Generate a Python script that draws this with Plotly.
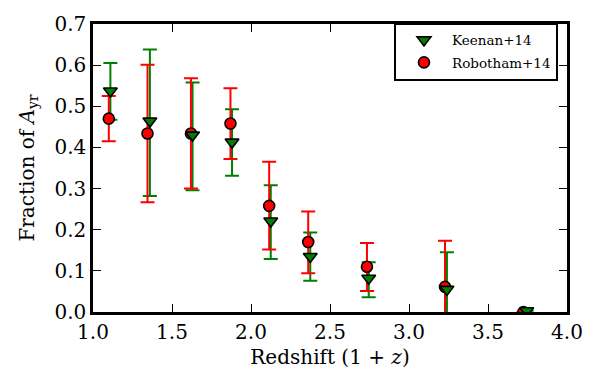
import plotly.graph_objects as go

# Keenan+14 (green triangles)
k_x = [1.11, 1.36, 1.63, 1.88, 2.125, 2.375, 2.745, 3.24, 3.745]
k_y = [0.537, 0.464, 0.430, 0.413, 0.221, 0.135, 0.082, 0.055, 0.003]
k_up = [0.605, 0.638, 0.558, 0.493, 0.308, 0.193, 0.121, 0.145, 0.003]
k_lo = [0.467, 0.282, 0.296, 0.331, 0.129, 0.076, 0.036, -0.05, 0.003]

# Robotham+14 (red circles)
r_x = [1.10, 1.345, 1.62, 1.87, 2.115, 2.362, 2.734, 3.228, 3.725]
r_y = [0.470, 0.434, 0.434, 0.458, 0.258, 0.170, 0.110, 0.061, 0.0]
r_up = [0.525, 0.601, 0.568, 0.544, 0.365, 0.244, 0.168, 0.173, 0.0]
r_lo = [0.415, 0.267, 0.300, 0.372, 0.152, 0.094, 0.051, -0.05, 0.0]

x_ticks = [1.0, 1.5, 2.0, 2.5, 3.0, 3.5, 4.0]
y_ticks = [0.0, 0.1, 0.2, 0.3, 0.4, 0.5, 0.6, 0.7]

GREEN = "#008000"
RED = "#ff0000"
FONT = "DejaVu Serif"


def err(vals, up, lo):
    plus = [u - v for u, v in zip(up, vals)]
    minus = [v - l for v, l in zip(vals, lo)]
    return plus, minus


kp, km = err(k_y, k_up, k_lo)
rp, rm = err(r_y, r_up, r_lo)

fig = go.Figure()
fig.add_trace(go.Scatter(
    x=k_x, y=k_y, mode="markers", showlegend=False, hoverinfo="skip",
    marker=dict(size=1, opacity=0),
    error_y=dict(type="data", symmetric=False, array=kp, arrayminus=km,
                 color=GREEN, thickness=2, width=7)))
fig.add_trace(go.Scatter(
    x=r_x, y=r_y, mode="markers", showlegend=False, hoverinfo="skip",
    marker=dict(size=1, opacity=0),
    error_y=dict(type="data", symmetric=False, array=rp, arrayminus=rm,
                 color=RED, thickness=2, width=7)))
fig.add_trace(go.Scatter(
    x=r_x, y=r_y, mode="markers", name="Robotham+14", legendrank=2,
    legendgroup="r",
    marker=dict(symbol="circle", size=11, color=RED,
                line=dict(color="black", width=1.6))))
fig.add_trace(go.Scatter(
    x=k_x, y=k_y, mode="markers", name="Keenan+14", legendrank=1,
    legendgroup="k",
    marker=dict(symbol="triangle-down", size=12, color=GREEN,
                line=dict(color="black", width=1.6))))

axis_common = dict(
    showline=True, linecolor="black", linewidth=2.5, mirror="ticks",
    ticks="inside", ticklen=8, tickwidth=1.2, tickcolor="black",
    showgrid=False, zeroline=False,
    tickfont=dict(family=FONT, size=20, color="black"),
)

fig.update_layout(
    width=599, height=390,
    margin=dict(l=93, r=32, t=12, b=78),
    paper_bgcolor="white", plot_bgcolor="white",
    font=dict(family=FONT, color="black"),
    xaxis=dict(range=[1.0, 4.0], tickvals=x_ticks,
               ticktext=[f"{v:.1f}" for v in x_ticks],
               title=dict(text="Redshift (1 + <i>z</i>)",
                          font=dict(family=FONT, size=20), standoff=8),
               **axis_common),
    yaxis=dict(range=[0.0, 0.7], tickvals=y_ticks,
               ticktext=[f"{v:.1f}" for v in y_ticks],
               title=dict(text="Fraction of <i>A</i><sub>yr</sub>",
                          font=dict(family=FONT, size=20), standoff=15),
               **axis_common),
    legend=dict(x=0.635, y=1.005, xanchor="left", yanchor="top",
                bgcolor="white", bordercolor="black", borderwidth=2,
                font=dict(family=FONT, size=13.5, color="black"),
                traceorder="grouped", tracegroupgap=2, itemwidth=46),
    showlegend=True,
)

fig.write_html("out.html")
